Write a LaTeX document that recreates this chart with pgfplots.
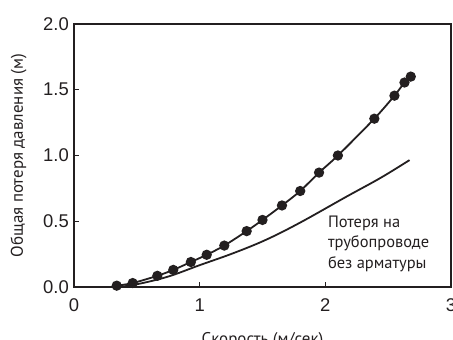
\documentclass[border=0pt]{standalone}
\usepackage{fontspec}
\setmainfont{Liberation Sans}
\newfontfamily\lab{PT Sans}
\usepackage{pgfplots}
\pgfplotsset{compat=1.18}
\definecolor{ink}{HTML}{231F20}
\begin{document}
\begin{tikzpicture}
\begin{axis}[
  name=ax,
  scale only axis,
  width=377bp, height=263bp,
  xmin=0, xmax=3, ymin=0, ymax=2,
  xtick={0,1,2,3}, ytick={0,0.5,1,1.5,2},
  tick pos=left, tick align=inside,
  major tick length=5bp,
  axis line style={ink, line width=1.7bp},
  tick style={ink, line width=1.3bp},
  /pgf/number format/assume math mode=true,
  yticklabel style={/pgf/number format/fixed, /pgf/number format/fixed zerofill, /pgf/number format/precision=1, font=\fontsize{18.5}{20}\selectfont, text=ink, inner sep=1bp, xshift=-4bp},
  xticklabel style={font=\fontsize{18.5}{20}\selectfont, text=ink, yshift=-8bp},
  xlabel={\lab Скорость (м/сек)},
  ylabel={\lab Общая потеря давления (м)},
  xlabel style={font=\fontsize{17}{19}\selectfont, text=ink, yshift=-14bp},
  ylabel style={font=\fontsize{17}{19}\selectfont, text=ink, yshift=12bp},
]
\addplot[ink, line width=1.8bp, smooth, mark=*, mark size=4.2bp, mark options={fill=ink, draw=ink}] coordinates {
(0.34,0.01) (0.467,0.03) (0.663,0.085) (0.79,0.13) (0.93,0.19) (1.056,0.245)
(1.196,0.315) (1.374,0.425) (1.50,0.51) (1.655,0.62) (1.80,0.73) (1.95,0.87)
(2.10,1.0) (2.39,1.28) (2.55,1.455) (2.63,1.555) (2.68,1.60)};
\addplot[ink, line width=1.8bp, smooth, tension=0.6, no marks] coordinates {
(0.34,0.002) (0.47,0.015) (0.738,0.076) (1.0,0.166) (1.27,0.258) (1.53,0.36) (1.80,0.49) (2.17,0.688) (2.44,0.83) (2.67,0.965)};
\node[anchor=north west, align=left, font=\lab\fontsize{16.5}{21}\selectfont, text=ink, inner sep=0pt] at (axis cs:2.02,0.545) {Потеря на\\трубопроводе\\без арматуры};
\end{axis}
\pgfresetboundingbox
\path[use as bounding box] ([xshift=-74bp,yshift=-53bp]ax.south west) rectangle ([xshift=2bp,yshift=24bp]ax.north east);
\end{tikzpicture}
\end{document}
